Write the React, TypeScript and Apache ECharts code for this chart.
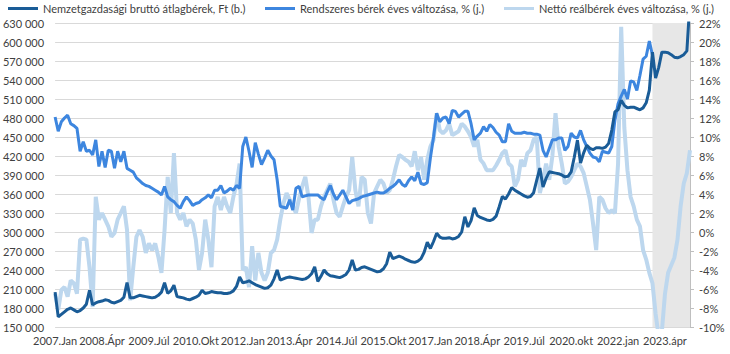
import React, { useEffect, useRef } from "react";
import * as echarts from "echarts";

const years = [2007, 2008, 2009, 2010, 2011, 2012, 2013, 2014, 2015, 2016, 2017, 2018, 2019, 2020, 2021, 2022, 2023];
const monthNames = ["Jan", "Febr", "Márc", "Ápr", "Máj", "Jún", "Júl", "Aug", "Szept", "Okt", "Nov", "Dec"];
const lowercaseFrom = 2020;

const categories: string[] = [];
years.forEach((y) =>
  monthNames.forEach((m) => categories.push(`${y}.${y >= lowercaseFrom ? m.toLowerCase() : m}`))
);

const seriesNames = [
  "Nemzetgazdasági bruttó átlagbérek, Ft (b.)",
  "Rendszeres bérek éves változása, % (j.)",
  "Nettó reálbérek éves változása, % (j.)",
];

// Gross average wage, Ft (left axis), Jan 2007 – Dec 2023
const grossWage = [
  205000, 166000, 170000, 174000, 178000, 180000, 177000, 174000, 176000, 180000, 186000, 208000,
  185000, 188000, 190000, 191000, 193000, 192000, 189000, 188000, 190000, 192000, 197000, 220000,
  196000, 196000, 198000, 200000, 199000, 198000, 197000, 196000, 197000, 200000, 205000, 220000,
  203000, 207000, 216000, 198000, 197000, 196000, 194000, 193000, 195000, 197000, 200000, 208000,
  203000, 204000, 206000, 205000, 204000, 204000, 203000, 203000, 204000, 207000, 214000, 229000,
  220000, 221000, 223000, 220000, 217000, 215000, 213000, 211000, 212000, 216000, 226000, 240000,
  224000, 226000, 228000, 229000, 228000, 227000, 226000, 225000, 226000, 229000, 234000, 245000,
  222000, 230000, 240000, 234000, 231000, 230000, 229000, 228000, 230000, 233000, 240000, 256000,
  240000, 241000, 244000, 245000, 243000, 241000, 239000, 237000, 238000, 242000, 250000, 268000,
  258000, 260000, 262000, 260000, 257000, 255000, 253000, 252000, 254000, 258000, 268000, 284000,
  274000, 285000, 298000, 292000, 290000, 290000, 291000, 289000, 290000, 293000, 300000, 324000,
  308000, 318000, 338000, 326000, 323000, 321000, 319000, 318000, 320000, 325000, 340000, 356000,
  352000, 360000, 370000, 366000, 363000, 360000, 357000, 355000, 356000, 362000, 382000, 401000,
  371000, 385000, 395000, 394000, 393000, 392000, 390000, 387000, 388000, 395000, 418000, 445000,
  409000, 425000, 437000, 432000, 430000, 433000, 433000, 432000, 434000, 440000, 461000, 490000,
  493000, 508000, 500000, 496000, 497000, 497000, 495000, 493000, 496000, 504000, 524000, 584000,
  543000, 560000, 584000, 584000, 583000, 580000, 576000, 575000, 577000, 580000, 586000, 665000,
];

// Regular wages, y/y change % (right axis)
const regularWageGrowth: (number | null)[] = [
  12.1, 10.6, 11.6, 12.0, 12.3, 11.4, 11.2, 10.9, 8.5, 9.5, 8.5, 8.6,
  8.1, 9.7, 6.9, 8.5, 6.8, 8.6, 8.5, 6.7, 8.5, 7.4, 8.5, 6.7,
  6.5, 6.3, 5.7, 5.4, 5.1, 4.9, 4.8, 4.6, 4.4, 4.2, 3.9, 4.8,
  3.7, 3.4, 3.2, 2.8, 2.5, 3.2, 3.7, 3.3, 2.8, 3.0, 3.1, 3.4,
  3.6, 3.9, 3.6, 4.4, 4.4, 4.9, 4.1, 4.3, 4.6, 4.4, 4.9, 4.6,
  9.0, 10.0, 8.5, 6.8, 9.4, 8.2, 7.1, 7.8, 8.6, 8.0, 7.6, 5.5,
  2.7, 2.6, 2.5, 3.4, 2.3, 4.6, 4.8, 3.7, 3.8, 3.9, 3.9, 3.9,
  3.9, 3.6, 3.4, 4.2, 4.9, 4.0, 3.4, 3.9, 4.4, 3.7, 3.0, 3.3,
  3.4, 3.5, 3.7, 3.8, 3.9, 4.0, 4.1, 4.2, 4.1, 4.1, 4.3, 4.6,
  4.8, 5.1, 5.5, 5.0, 4.8, 5.4, 5.8, 5.4, 6.3, 5.1, 5.0, 5.2,
  7.8, 10.0, 12.5, 11.6, 12.0, 12.1, 11.4, 12.8, 12.7, 12.1, 12.4, 12.7,
  12.7, 11.4, 9.7, 10.1, 10.4, 11.1, 10.6, 11.3, 11.0, 10.5, 10.2, 9.5,
  9.5, 11.4, 10.6, 10.4, 10.4, 10.4, 10.5, 10.4, 10.4, 10.3, 10.3, 10.2,
  8.6, 7.9, 8.8, 9.7, 9.7, 9.9, 9.9, 8.6, 9.0, 10.4, 10.0, 9.9,
  10.7, 9.7, 9.0, 8.3, 7.9, 7.8, 7.4, 8.5, 8.4, 8.3, 9.0, 11.8,
  13.5, 14.3, 15.0, 14.0, 15.9, 15.8, 14.9, 16.5, 18.2, 18.5, 20.1, 18.6,
  null, null, null, null, null, null, null, null, null, null, null, null,
];

// Net real wages, y/y change % (right axis)
const netRealWageGrowth = [
  -6.5, -8.2, -6.1, -5.8, -6.8, -5.1, -5.4, -6.5, -0.8, -0.7, -0.8, -3.7,
  -7.9, 3.7, 1.3, 2.0, 1.3, 0.6, -0.5, -0.1, 1.3, 2.0, 2.7, 0.2,
  -7.2, -3.7, -0.5, 0.2, -0.5, -2.2, -1.2, -1.9, -1.2, -2.6, -4.3, 0.2,
  5.8, 2.0, 8.3, 2.0, 1.3, 2.0, 0.6, 1.3, 0.9, -0.8, -4.0, -2.2,
  1.3, -0.8, -3.7, 2.7, 3.7, 2.3, 3.7, 2.7, 2.0, 3.7, 5.0, 7.2,
  -4.0, -3.7, -5.8, -1.5, -5.1, -2.2, -4.3, -5.1, -4.3, -2.2, -1.9, -0.8,
  1.3, 3.0, 4.1, 3.4, 2.7, 2.0, 3.5, 4.8, 5.8, 3.7, -0.1, 1.3,
  1.3, 2.7, 3.7, 4.4, 5.1, 3.4, 2.0, 1.6, 2.7, 3.7, 4.4, 7.9,
  4.4, 2.7, 5.8, 5.5, 2.0, 0.9, 4.1, 4.8, 5.5, 5.1, 4.1, 4.4,
  5.5, 6.9, 8.1, 7.9, 7.6, 7.4, 6.9, 8.5, 6.5, 7.9, 5.5, 7.6,
  9.0, 9.7, 12.5, 10.7, 10.4, 10.7, 11.4, 10.2, 10.4, 10.6, 11.4, 11.1,
  10.6, 10.0, 9.0, 9.7, 7.6, 7.2, 6.5, 6.5, 6.5, 7.0, 7.6, 8.3,
  8.6, 7.2, 6.9, 4.8, 5.5, 7.6, 6.9, 8.3, 8.6, 9.7, 10.0, 4.1,
  5.5, 7.2, 5.5, 8.0, 12.5, 9.0, 7.2, 5.1, 5.3, 5.8, 6.5, 7.2,
  6.9, 6.2, 4.8, 3.4, 0.9, -1.9, 3.7, 3.4, 2.5, 2.0, 2.3, 2.0,
  7.2, 21.6, 11.0, 6.5, 3.7, 2.7, 1.3, 0.6, -1.9, -2.9, -4.3, -5.4,
  -8.6, -11.0, -10.5, -6.5, -4.3, -3.5, -2.7, -0.8, 2.7, 5.1, 6.2, 8.6,
];

const shadeFrom = "2022.dec";
const shadeTo = "2023.dec";

const textColor = "#404040";
const font = "Lato, 'DejaVu Sans', sans-serif";

const fmtThousands = (v: number) => String(v).replace(/\B(?=(\d{3})+(?!\d))/g, " ");

export default function App() {
  const ref = useRef<HTMLDivElement>(null);
  useEffect(() => {
    if (!ref.current) return;
    const chart = echarts.init(ref.current, undefined, { renderer: "svg" });
    const legendBase = {
      top: 3,
      icon: "rect",
      itemWidth: 30,
      itemHeight: 3,
      itemGap: 5,
      padding: 0,
      selectedMode: false,
      textStyle: { color: textColor, fontSize: 11, lineHeight: 11, fontFamily: font },
    };
    chart.setOption({
      animation: false,
      grid: { left: 54, right: 40, top: 23, bottom: 27 },
      legend: [
        { ...legendBase, left: 8, data: [seriesNames[0]] },
        { ...legendBase, left: 265, data: [seriesNames[1]] },
        { ...legendBase, left: 504, data: [seriesNames[2]] },
      ],
      xAxis: {
        type: "category",
        data: categories,
        boundaryGap: false,
        axisLine: { show: true, lineStyle: { color: "#d9d9d9" } },
        axisTick: { show: false },
        axisLabel: { interval: 14, margin: 8, fontSize: 11, fontFamily: font, color: textColor },
        splitLine: { show: false },
      },
      yAxis: [
        {
          type: "value",
          min: 150000,
          max: 630000,
          interval: 30000,
          axisLine: { show: false },
          axisTick: { show: false },
          axisLabel: { formatter: fmtThousands, margin: 11, fontSize: 11, fontFamily: font, color: textColor },
          splitLine: { show: true, lineStyle: { color: "#d9d9d9", width: 1 } },
        },
        {
          type: "value",
          min: -10,
          max: 22,
          interval: 2,
          position: "right",
          axisLine: { show: true, lineStyle: { color: "#bfbfbf" } },
          axisTick: { show: true, inside: false, length: 4, lineStyle: { color: "#bfbfbf" } },
          axisLabel: { formatter: "{value}%", margin: 9, fontSize: 11, fontFamily: font, color: textColor },
          splitLine: { show: false },
        },
      ],
      series: [
        {
          name: seriesNames[2],
          type: "line",
          yAxisIndex: 1,
          data: netRealWageGrowth,
          symbol: "none",
          z: 2,
          lineStyle: { width: 4, color: "#bdd7ee" },
          itemStyle: { color: "#bdd7ee" },
          markArea: {
            silent: true,
            itemStyle: { color: "#e7e7e7" },
            data: [[{ xAxis: shadeFrom }, { xAxis: shadeTo }]],
          },
        },
        {
          name: seriesNames[1],
          type: "line",
          yAxisIndex: 1,
          data: regularWageGrowth,
          symbol: "none",
          z: 3,
          lineStyle: { width: 3, color: "#3d86df" },
          itemStyle: { color: "#3d86df" },
        },
        {
          name: seriesNames[0],
          type: "line",
          yAxisIndex: 0,
          data: grossWage,
          symbol: "none",
          z: 4,
          lineStyle: { width: 3, color: "#1a5c97" },
          itemStyle: { color: "#1a5c97" },
        },
      ],
    });
    return () => chart.dispose();
  }, []);
  return (
    <div
      ref={ref}
      style={{ position: "fixed", left: 0, top: 0, width: 730, height: 354, background: "#fff" }}
    />
  );
}
